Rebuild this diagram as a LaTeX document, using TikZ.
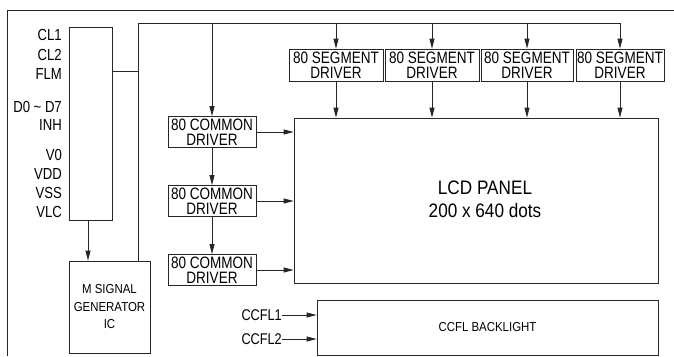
\documentclass[tikz,border=0pt]{standalone}
\usepackage{fontspec}
\setmainfont{Liberation Sans}[FakeStretch=0.88]
\newfontfamily\narrowfont{Liberation Sans}[FakeStretch=0.82]
\usetikzlibrary{arrows.meta}
\begin{document}
\begin{tikzpicture}[x=1pt,y=-1pt,
  line/.style={draw=black!85,line width=0.8pt},
  arr/.style={line,-{Triangle[length=10pt,width=5pt]}},
  box/.style={line,rectangle,inner sep=0pt,align=center},
  segbox/.style={box,minimum height=32pt,font=\narrowfont\fontsize{16.5}{15}\selectfont},
  combox/.style={box,minimum width=88pt,minimum height=31pt,font=\narrowfont\fontsize{16.5}{15}\selectfont},
  pinlab/.style={anchor=east,inner sep=0pt,font=\narrowfont\fontsize{16}{17}\selectfont}]
\useasboundingbox (0,0) rectangle (674,356);
\draw[line] (674,10) -- (7,10) -- (7,356);
% interface bar
\node[box,minimum width=43pt,minimum height=193pt] (bar) at (90.5,123.5) {};
\node[pinlab] (l1) at (62,35) {CL1};
\node[pinlab] (l2) at (62,55) {CL2};
\node[pinlab] (l3) at (62,74) {FLM};
\node[pinlab] (l4) at (62,107) {D0 \char"007E{} D7};
\node[pinlab] (l5) at (62,125) {INH};
\node[pinlab] (l6) at (62,155) {V0};
\node[pinlab] (l7) at (62,174) {VDD};
\node[pinlab] (l8) at (62,193) {VSS};
\node[pinlab] (l9) at (62,212) {VLC};
% M signal generator
\node[box,minimum width=81pt,minimum height=92pt,font=\fontsize{13}{17.5}\selectfont] (msig) at (109.5,307) {M SIGNAL\\GENERATOR\\IC};
% segment drivers
\node[segbox,minimum width=94pt] (s1) at (336,65) {80 SEGMENT\\DRIVER};
\node[segbox,minimum width=94pt] (s2) at (432,65) {80 SEGMENT\\DRIVER};
\node[segbox,minimum width=92pt] (s3) at (527,65) {80 SEGMENT\\DRIVER};
\node[segbox,minimum width=88pt] (s4) at (620,65) {80 SEGMENT\\DRIVER};
% common drivers
\node[combox] (c1) at (212,132) {80 COMMON\\DRIVER};
\node[combox] (c2) at (212,201) {80 COMMON\\DRIVER};
\node[combox] (c3) at (212,270) {80 COMMON\\DRIVER};
% LCD panel
\node[box,minimum width=364pt,minimum height=165pt] (lcd) at (476,200.5) {};
\node[inner sep=0pt,align=center,font=\fontsize{19.5}{23}\selectfont] (lcdt) at (485,199) {LCD PANEL\\200 x 640 dots};
% backlight
\node[box,minimum width=341pt,minimum height=55pt,font=\fontsize{13}{15}\selectfont] (bl) at (487.5,327.5) {CCFL BACKLIGHT};
\node[pinlab,font=\narrowfont\fontsize{15.5}{17}\selectfont] (cc1) at (282,315) {CCFL1};
\node[pinlab,font=\narrowfont\fontsize{15.5}{17}\selectfont] (cc2) at (282,339) {CCFL2};
% bus
\coordinate (b0) at (138,23);
\coordinate (j) at (138,71);
\draw[line] (bar.east |- j) -- (j);
\draw[arr] (msig.north -| b0) -- (b0) -| (s4.north);
\draw[arr] (b0 -| s1) -- (s1.north);
\draw[arr] (b0 -| s2) -- (s2.north);
\draw[arr] (b0 -| s3) -- (s3.north);
\draw[arr] (b0 -| c1) -- (c1.north);
\draw[arr] (s1.south) -- (s1.south |- lcd.north);
\draw[arr] (s2.south) -- (s2.south |- lcd.north);
\draw[arr] (s3.south) -- (s3.south |- lcd.north);
\draw[arr] (s4.south) -- (s4.south |- lcd.north);
\draw[arr] (c1.south) -- (c2.north);
\draw[arr] (c2.south) -- (c3.north);
\draw[arr] (c1.east) -- (c1.east -| lcd.west);
\draw[arr] (c2.east) -- (c2.east -| lcd.west);
\draw[arr] (c3.east) -- (c3.east -| lcd.west);
\draw[arr] ([xshift=-2.5pt]bar.south) -- ([xshift=-2.5pt]bar.south |- msig.north);
\draw[arr] (cc1.east) -- (cc1.east -| bl.west);
\draw[arr] (cc2.east) -- (cc2.east -| bl.west);
\end{tikzpicture}
\end{document}
